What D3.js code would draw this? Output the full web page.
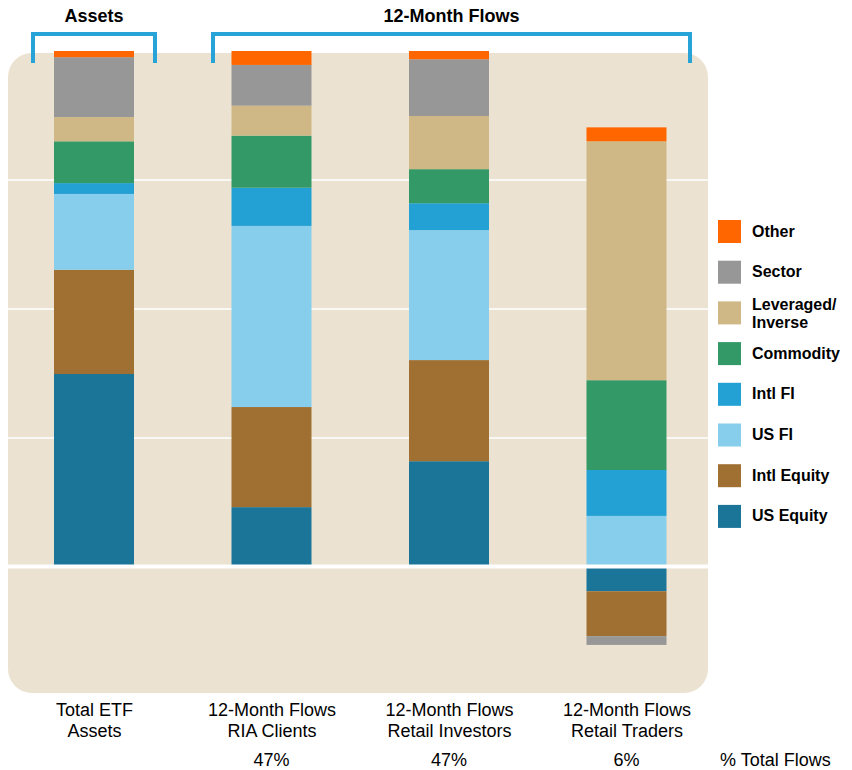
<!DOCTYPE html>
<html>
<head>
<meta charset="utf-8">
<script src="https://cdn.jsdelivr.net/npm/d3@7"></script>
<style>
  html, body { margin: 0; padding: 0; background: #ffffff; }
  svg { display: block; font-family: "Liberation Sans", Arial, Helvetica, sans-serif; }
</style>
</head>
<body>
<svg id="chart" width="852" height="770"></svg>
<script>
// Bar categories (x-axis labels, two lines each)
const categories = ["Total ETF Assets", "12-Month Flows RIA Clients", "12-Month Flows Retail Investors", "12-Month Flows Retail Traders"];
const categoryLines = [["Total ETF", "Assets"], ["12-Month Flows", "RIA Clients"], ["12-Month Flows", "Retail Investors"], ["12-Month Flows", "Retail Traders"]];

// Asset classes in stacking order (bottom to top)
const seriesKeys = ["US Equity", "Intl Equity", "US FI", "Intl FI", "Commodity", "Leveraged/Inverse", "Sector", "Other"];
const seriesColors = ["#1a7599", "#a07033", "#86ceeb", "#23a1d4", "#339966", "#d0b886", "#979797", "#ff6600"];

// Share of each bar (%) by asset class, one array per class, in category order
const usEquity   = [37.4, 11.6, 20.5, -4.7];
const intlEquity = [20.2, 19.4, 19.6, -8.7];
const usFI       = [14.7, 35.1, 25.2,  9.9];
const intlFI     = [ 2.1,  7.4,  5.2,  8.9];
const commodity  = [ 8.1, 10.1,  6.6, 17.4];
const leveraged  = [ 4.7,  5.8, 10.3, 46.3];
const sector     = [11.6,  7.9, 11.0, -1.7];
const other      = [ 1.2,  2.7,  1.6,  2.7];

// Share of total 12-month flows per investor group
const flowShare = ["", "47%", "47%", "6%"];
const flowShareLabel = "% Total Flows";

// Gridline values
const gridTicks = [25, 50, 75];

const seriesValues = [usEquity, intlEquity, usFI, intlFI, commodity, leveraged, sector, other];
const rows = categories.map((c, i) => {
  const r = { category: c };
  seriesKeys.forEach((k, j) => { r[k] = seriesValues[j][i]; });
  return r;
});

const svg = d3.select("#chart");
const color = d3.scaleOrdinal().domain(seriesKeys).range(seriesColors);

const x = d3.scalePoint().domain(categories).range([5.25, 715.25]).padding(0.5);
const y = d3.scaleLinear().domain([0, 100]).range([567, 51]);
const barWidth = 80;

// Panel background
svg.append("rect")
  .attr("x", 8).attr("y", 53).attr("width", 700).attr("height", 640)
  .attr("rx", 24).attr("ry", 24)
  .attr("fill", "#ece2d1");

// Gridlines
svg.append("g").selectAll("line").data(gridTicks).join("line")
  .attr("x1", 8).attr("x2", 708)
  .attr("y1", d => y(d)).attr("y2", d => y(d))
  .attr("stroke", "#ffffff").attr("stroke-width", 1.5);

// Stacked bars (negative values stack below zero)
const stack = d3.stack().keys(seriesKeys).offset(d3.stackOffsetDiverging);
const layers = stack(rows);

svg.append("g").selectAll("g").data(layers).join("g")
  .attr("fill", d => color(d.key))
  .selectAll("rect").data(d => d).join("rect")
  .attr("x", d => x(d.data.category) - barWidth / 2)
  .attr("width", barWidth)
  .attr("y", d => y(Math.max(d[0], d[1])))
  .attr("height", d => Math.abs(y(d[0]) - y(d[1])));

// Zero line
svg.append("line")
  .attr("x1", 8).attr("x2", 708)
  .attr("y1", y(0) - 0.5).attr("y2", y(0) - 0.5)
  .attr("stroke", "#ffffff").attr("stroke-width", 4);

// Group brackets and headings
const bracketColor = "#27a3d8";
const brackets = [
  { title: "Assets", x0: x(categories[0]) - 61, x1: x(categories[0]) + 61 },
  { title: "12-Month Flows", x0: x(categories[1]) - 58.5, x1: x(categories[3]) + 63.5 }
];
const bg = svg.append("g");
brackets.forEach(b => {
  bg.append("path")
    .attr("d", `M${b.x0},63 V34 H${b.x1} V63`)
    .attr("fill", "none")
    .attr("stroke", bracketColor)
    .attr("stroke-width", 4);
  bg.append("text")
    .attr("x", (b.x0 + b.x1) / 2).attr("y", 22)
    .attr("text-anchor", "middle")
    .attr("font-size", 18).attr("font-weight", "bold")
    .attr("fill", "#000")
    .text(b.title);
});

// Category axis
const xAxis = svg.append("g")
  .attr("transform", "translate(0,700)")
  .call(d3.axisBottom(x).tickSize(0).tickPadding(0).tickFormat(() => ""));
xAxis.select(".domain").remove();
xAxis.selectAll(".tick text").remove();
xAxis.selectAll(".tick").each(function(d, i) {
  const t = d3.select(this).append("text")
    .attr("text-anchor", "middle")
    .attr("fill", "#000")
    .attr("font-size", 18)
    .attr("font-family", "Liberation Sans, Arial, sans-serif");
  categoryLines[i].forEach((line, k) => {
    t.append("tspan").attr("x", 0).attr("y", 16 + k * 21).text(line);
  });
});

// Flow share row
svg.append("g").selectAll("text").data(categories).join("text")
  .attr("x", d => x(d))
  .attr("y", 766)
  .attr("text-anchor", "middle")
  .attr("font-size", 18)
  .attr("fill", "#000")
  .text((d, i) => flowShare[i]);
svg.append("text")
  .attr("x", 720).attr("y", 766)
  .attr("font-size", 18).attr("fill", "#000")
  .text(flowShareLabel);

// Legend (top of stack first)
const legendKeys = seriesKeys.slice().reverse();
const legend = svg.append("g").attr("transform", "translate(718,220)");
const item = legend.selectAll("g").data(legendKeys).join("g")
  .attr("transform", (d, i) => `translate(0,${i * 40.7})`);
item.append("rect")
  .attr("width", 23).attr("height", 23)
  .attr("fill", d => color(d));
item.each(function(d) {
  const t = d3.select(this).append("text")
    .attr("x", 34)
    .attr("font-size", 16).attr("font-weight", "bold")
    .attr("fill", "#000");
  const parts = d === "Leveraged/Inverse" ? ["Leveraged/", "Inverse"] : [d];
  parts.forEach((p, k) => {
    const base = parts.length === 1 ? 16.5 : 9 + k * 18;
    t.append("tspan").attr("x", 34).attr("y", base).text(p);
  });
});
</script>
</body>
</html>
